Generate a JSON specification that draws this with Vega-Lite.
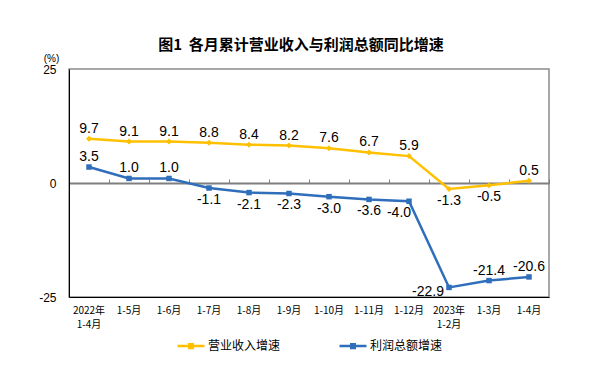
{
  "$schema": "https://vega.github.io/schema/vega-lite/v6.json",
  "width": 480,
  "height": 228,
  "autosize": {"type": "none"},
  "padding": {"left": 69, "top": 69, "right": 51, "bottom": 70},
  "background": "white",
  "title": {
    "text": "图1\u00a0\u00a0各月累计营业收入与利润总额同比增速",
    "font": "Noto Sans CJK SC",
    "fontSize": 15,
    "fontWeight": "bold",
    "color": "#000000",
    "anchor": "middle",
    "frame": "group",
    "dx": -8,
    "offset": 0
  },
  "config": {
    "view": {"stroke": "#8c8c8c", "strokeWidth": 1.5},
    "font": "Liberation Sans",
    "locale": {"number": {"decimal": ".", "thousands": ",", "grouping": [3], "currency": ["", ""], "minus": "-"}}
  },
  "data": {
    "values": [
      {"month": "2022年1-4月", "series": "营业收入增速", "value": 9.7},
      {"month": "1-5月", "series": "营业收入增速", "value": 9.1},
      {"month": "1-6月", "series": "营业收入增速", "value": 9.1},
      {"month": "1-7月", "series": "营业收入增速", "value": 8.8},
      {"month": "1-8月", "series": "营业收入增速", "value": 8.4},
      {"month": "1-9月", "series": "营业收入增速", "value": 8.2},
      {"month": "1-10月", "series": "营业收入增速", "value": 7.6},
      {"month": "1-11月", "series": "营业收入增速", "value": 6.7},
      {"month": "1-12月", "series": "营业收入增速", "value": 5.9},
      {"month": "2023年1-2月", "series": "营业收入增速", "value": -1.3},
      {"month": "1-3月", "series": "营业收入增速", "value": -0.5},
      {"month": "1-4月", "series": "营业收入增速", "value": 0.5},
      {"month": "2022年1-4月", "series": "利润总额增速", "value": 3.5},
      {"month": "1-5月", "series": "利润总额增速", "value": 1.0},
      {"month": "1-6月", "series": "利润总额增速", "value": 1.0},
      {"month": "1-7月", "series": "利润总额增速", "value": -1.1},
      {"month": "1-8月", "series": "利润总额增速", "value": -2.1},
      {"month": "1-9月", "series": "利润总额增速", "value": -2.3},
      {"month": "1-10月", "series": "利润总额增速", "value": -3.0},
      {"month": "1-11月", "series": "利润总额增速", "value": -3.6},
      {"month": "1-12月", "series": "利润总额增速", "value": -4.0},
      {"month": "2023年1-2月", "series": "利润总额增速", "value": -22.9},
      {"month": "1-3月", "series": "利润总额增速", "value": -21.4},
      {"month": "1-4月", "series": "利润总额增速", "value": -20.6}
    ]
  },
  "resolve": {"axis": {"x": "independent"}},
  "layer": [
    {
      "mark": {"type": "rule", "opacity": 0},
      "encoding": {
        "x": {
          "field": "month", "type": "nominal", "sort": null,
          "scale": {"type": "band", "paddingInner": 0, "paddingOuter": 0},
          "axis": {
            "orient": "top", "offset": -114, "labels": false, "title": null,
            "domainColor": "#7f7f7f", "domainWidth": 2,
            "ticks": true, "tickBand": "extent", "tickColor": "#7f7f7f", "tickSize": 4, "tickWidth": 1, "grid": false
          }
        },
        "y": {"datum": 0, "type": "quantitative"}
      }
    },
    {
      "encoding": {
        "x": {
          "field": "month", "type": "nominal", "sort": null, "bandPosition": 0.5,
          "scale": {"type": "band", "paddingInner": 0, "paddingOuter": 0},
          "axis": {
            "orient": "bottom", "title": null, "ticks": false, "grid": false,
            "domainColor": "#000000", "domainWidth": 1,
            "labelAngle": 0, "labelFont": "Noto Sans CJK SC", "labelFontSize": 10, "labelColor": "#000000",
            "labelPadding": 8, "labelLineHeight": 14, "labelBaseline": "top",
            "labelExpr": "datum.label == '2022年1-4月' ? ['2022年', '1-4月'] : datum.label == '2023年1-2月' ? ['2023年', '1-2月'] : datum.label"
          }
        },
        "y": {
          "field": "value", "type": "quantitative",
          "scale": {"domain": [-25, 25], "nice": false, "zero": false},
          "axis": {
            "values": [-25, 0, 25], "grid": false, "ticks": false,
            "domainColor": "#000000", "domainWidth": 1,
            "labelFont": "Liberation Sans", "labelFontSize": 12, "labelColor": "#000000", "labelPadding": 13,
            "title": "(%)", "titleAngle": 0, "titleFont": "Liberation Sans", "titleFontSize": 10, "titleFontWeight": "normal",
            "titleColor": "#000000", "titleAlign": "center", "titleBaseline": "middle", "titleX": -18, "titleY": -11
          }
        },
        "color": {
          "field": "series", "type": "nominal",
          "scale": {"domain": ["营业收入增速", "利润总额增速"], "range": ["#FFC000", "#2F6EBA"]},
          "legend": {
            "orient": "none", "direction": "horizontal", "legendX": 107, "legendY": 262,
            "title": null,
            "symbolType": "M-1,0H1M-0.13,-0.13H0.13V0.13H-0.13Z",
            "symbolSize": 729, "symbolStrokeWidth": 2.5,
            "labelFont": "Noto Sans CJK SC", "labelFontSize": 12, "labelColor": "#000000", "labelOffset": 2,
            "columnPadding": 53,
            "encode": {
              "symbols": {"update": {
                "shape": {"value": "M-1,0H1M-0.13,-0.13H0.13V0.13H-0.13Z"},
                "size": {"value": 729},
                "fill": {"scale": "color", "field": "value"},
                "stroke": {"scale": "color", "field": "value"},
                "strokeWidth": {"value": 2.5}
              }}
            }
          }
        }
      },
      "layer": [
        {"mark": {"type": "line", "strokeWidth": 2.5}},
        {
          "transform": [{"filter": "datum.series == '营业收入增速'"}],
          "mark": {"type": "point", "filled": true, "opacity": 1, "shape": "diamond", "size": 36}
        },
        {
          "transform": [{"filter": "datum.series == '利润总额增速'"}],
          "mark": {"type": "point", "filled": true, "opacity": 1, "shape": "square", "size": 30}
        },
        {
          "transform": [{"filter": "(datum.series == '营业收入增速' && datum.value >= 0) || (datum.series == '利润总额增速' && (datum.value > 0 || (datum.value < -20 && datum.value > -22)))"}],
          "mark": {"type": "text", "baseline": "bottom", "dy": -3, "fontSize": 14, "font": "Liberation Sans", "color": "#000000"},
          "encoding": {"text": {"field": "value", "type": "quantitative", "format": ".1f"}, "color": {"value": "#000000"}}
        },
        {
          "transform": [{"filter": "datum.value < 0 && datum.value > -3.9"}],
          "mark": {"type": "text", "baseline": "top", "dy": 5, "fontSize": 14, "font": "Liberation Sans", "color": "#000000"},
          "encoding": {"text": {"field": "value", "type": "quantitative", "format": ".1f"}, "color": {"value": "#000000"}}
        },
        {
          "transform": [{"filter": "datum.value <= -3.9 && datum.value > -5"}],
          "mark": {"type": "text", "baseline": "top", "dy": 5, "dx": -10, "fontSize": 14, "font": "Liberation Sans", "color": "#000000"},
          "encoding": {"text": {"field": "value", "type": "quantitative", "format": ".1f"}, "color": {"value": "#000000"}}
        },
        {
          "transform": [{"filter": "datum.value < -22"}],
          "mark": {"type": "text", "baseline": "middle", "align": "right", "dx": -5, "dy": 5, "fontSize": 14, "font": "Liberation Sans", "color": "#000000"},
          "encoding": {"text": {"field": "value", "type": "quantitative", "format": ".1f"}, "color": {"value": "#000000"}}
        }
      ]
    }
  ]
}
